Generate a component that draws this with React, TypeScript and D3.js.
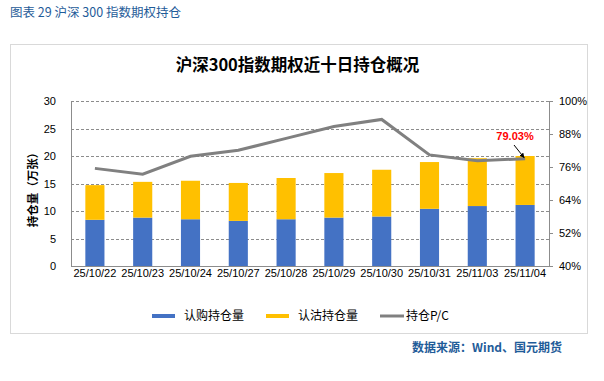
import React from "react";
import * as d3 from "d3";

const categories = ["25/10/22","25/10/23","25/10/24","25/10/27","25/10/28","25/10/29","25/10/30","25/10/31","25/11/03","25/11/04"];
const callOI = [8.4, 8.8, 8.5, 8.2, 8.5, 8.8, 9.0, 10.4, 10.9, 11.1];
const putOI = [6.3, 6.5, 7.0, 6.9, 7.5, 8.1, 8.5, 8.5, 8.7, 8.9];
const pcRatio = [75.5, 73.4, 79.9, 82.1, 86.4, 90.7, 93.3, 80.4, 78.3, 79.03];
const leftTicks = [0, 5, 10, 15, 20, 25, 30];
const rightTicks = [40, 52, 64, 76, 88, 100];

const FONT = "Arial, 'Liberation Sans', 'Noto Sans CJK SC', sans-serif";
const CJK = "'Noto Sans CJK SC', 'Microsoft YaHei', sans-serif";

export default function App() {
  const W = 604, H = 381;
  const left = 71, right = 549, top = 101, bottom = 266;
  const x = d3.scaleBand<string>().domain(categories).range([left, right]).paddingInner(0.6).paddingOuter(0.3);
  const y = d3.scaleLinear().domain([0, 30]).range([bottom, top]);
  const yr = d3.scaleLinear().domain([40, 100]).range([bottom, top]);
  const line = d3.line<number>()
    .x((_, i) => (x(categories[i]) as number) + x.bandwidth() / 2)
    .y((d) => yr(d));
  const lastX = (x(categories[9]) as number) + x.bandwidth() / 2;
  const lastY = yr(pcRatio[9]);

  return (
    <svg width={W} height={H} style={{ position: "absolute", left: 0, top: 0, background: "#fff" }}>
      <defs>
        <marker id="arr" viewBox="0 0 10 10" refX="9" refY="5" markerWidth="5" markerHeight="5" orient="auto">
          <path d="M0,0 L10,5 L0,10 z" fill="#000" />
        </marker>
      </defs>
      <text x={10} y={17} fontFamily={CJK} fontSize={12.5} fill="#1f5c99">图表 29  沪深 300 指数期权持仓</text>
      <rect x={10.5} y={44.5} width={577} height={289} fill="none" stroke="#d9d9d9" strokeWidth={1} />
      <text x={297.5} y={71} textAnchor="middle" fontFamily={CJK} fontSize={16.5} fontWeight="bold" fill="#000">沪深300指数期权近十日持仓概况</text>

      {leftTicks.filter((t) => t > 0).map((t) => (
        <line key={t} x1={left} x2={right} y1={Math.round(y(t)) + 0.5} y2={Math.round(y(t)) + 0.5} stroke="#8c8c8c" strokeDasharray="3,2" strokeWidth={1} />
      ))}
      {categories.map((c, i) => (
        <g key={c}>
          <rect x={x(c)} width={x.bandwidth()} y={y(callOI[i])} height={y(0) - y(callOI[i])} fill="#4472C4" />
          <rect x={x(c)} width={x.bandwidth()} y={y(callOI[i] + putOI[i])} height={y(callOI[i]) - y(callOI[i] + putOI[i])} fill="#FFC000" />
          <text x={(x(c) as number) + x.bandwidth() / 2} y={277} textAnchor="middle" fontFamily={FONT} fontSize={11} fill="#000">{c}</text>
        </g>
      ))}
      <line x1={left + 0.5} x2={left + 0.5} y1={top} y2={bottom} stroke="#8c8c8c" />
      <line x1={right + 0.5} x2={right + 0.5} y1={top} y2={bottom} stroke="#8c8c8c" />
      <line x1={left} x2={right + 1} y1={bottom + 0.5} y2={bottom + 0.5} stroke="#8c8c8c" />
      {leftTicks.map((t) => (
        <text key={t} x={56} y={y(t) + 4} textAnchor="end" fontFamily={FONT} fontSize={11} fill="#000">{t}</text>
      ))}
      {rightTicks.map((t) => (
        <g key={t}>
          <line x1={right} x2={right + 4} y1={Math.round(yr(t)) + 0.5} y2={Math.round(yr(t)) + 0.5} stroke="#8c8c8c" />
          <text x={559} y={yr(t) + 4} fontFamily={FONT} fontSize={11} fill="#000">{t}%</text>
        </g>
      ))}
      <path d={line(pcRatio) as string} fill="none" stroke="#808080" strokeWidth={3} />
      <text x={515} y={140} textAnchor="middle" fontFamily={FONT} fontSize={11} fontWeight="bold" fill="#ff0000">{pcRatio[9].toFixed(2)}%</text>
      <line x1={514} y1={145} x2={lastX - 1} y2={lastY - 1} stroke="#000" strokeWidth={1} markerEnd="url(#arr)" />

      <text transform={`translate(37,187) rotate(-90)`} textAnchor="middle" fontFamily={CJK} fontSize={11.5} fontWeight="bold" fill="#000">持仓量（万张）</text>

      <rect x={152} y={314} width={23} height={4} fill="#4472C4" />
      <text x={184} y={320} fontFamily={CJK} fontSize={12} fill="#000">认购持仓量</text>
      <rect x={266} y={314} width={23} height={4} fill="#FFC000" />
      <text x={298} y={320} fontFamily={CJK} fontSize={12} fill="#000">认沽持仓量</text>
      <line x1={380} x2={404} y1={316} y2={316} stroke="#808080" strokeWidth={3} />
      <text x={406} y={320} fontFamily={CJK} fontSize={12} fill="#000">持仓P/C</text>

      <text x={412} y={352} fontFamily={CJK} fontSize={12} fontWeight="bold" fill="#1f5c99">数据来源：Wind、国元期货</text>
    </svg>
  );
}
